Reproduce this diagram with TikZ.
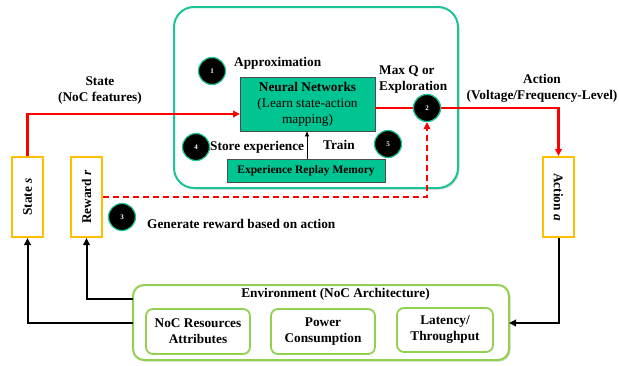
\documentclass[tikz,border=0pt]{standalone}
\usepackage{fontspec}
\setmainfont{Liberation Serif}
\usetikzlibrary{arrows.meta,shadows}
\definecolor{agentteal}{RGB}{26,196,150}
\definecolor{nnfill}{RGB}{0,196,145}
\definecolor{boxorange}{RGB}{255,190,0}
\definecolor{envgreen}{RGB}{146,208,80}
\definecolor{linered}{RGB}{255,0,0}
\begin{document}
\begin{tikzpicture}[x=1pt,y=-1pt,
  lbl/.style={font=\fontsize{13.3}{16}\selectfont\bfseries, inner sep=0pt},
  agentbox/.style={draw=agentteal, line width=2pt, rounded corners=20pt, fill=white,
    drop shadow={shadow xshift=1.5pt, shadow yshift=-1.5pt, opacity=0.3}},
  tealbox/.style={draw=black!70, line width=0.8pt, fill=nnfill, inner sep=0pt},
  stepmark/.style={circle, fill=black, draw=agentteal, line width=1.2pt, minimum size=27pt,
    inner sep=0pt, text=white, font=\fontsize{7}{7}\selectfont\bfseries},
  varbox/.style={draw=boxorange, line width=2pt, fill=white, minimum width=31pt,
    minimum height=80pt, inner sep=0pt},
  envbox/.style={draw=envgreen, line width=2pt, rounded corners=11pt, fill=white,
    drop shadow={shadow xshift=1.5pt, shadow yshift=-1.5pt, opacity=0.35}},
  subbox/.style={draw=envgreen, line width=1.8pt, rounded corners=7pt, fill=white,
    inner sep=0pt, align=center, font=\fontsize{13.3}{16}\selectfont\bfseries},
  redline/.style={draw=linered, line width=2.2pt},
  redtip/.style={-{Triangle[length=7pt,width=6.5pt]}},
  blackarrow/.style={draw=black, line width=2pt, -{Triangle[length=7pt,width=6.5pt]}},
]
\useasboundingbox (0,0) rectangle (619,365);

% agent
\node[agentbox, minimum width=284pt, minimum height=181pt] (agent) at (316,97.5) {};
\node[tealbox, minimum width=135pt, minimum height=54pt, align=center,
  font=\fontsize{13.3}{16}\selectfont] (nn) at (307.5,104)
  {\textbf{Neural Networks}\\(Learn state-action\\mapping)};
\node[tealbox, minimum width=158pt, minimum height=23pt, font=\fontsize{11.5}{13}\selectfont\bfseries]
  (erm) at (306,170.5) {Experience Replay Memory};
\draw[black, line width=0.8pt, -{Triangle[length=5pt,width=4pt]}] (erm.north -| 307,0) -- (nn.south -| 307,0);

\node[stepmark] (c1) at (212,71) {1};
\node[stepmark] (c4) at (196,147) {4};
\node[stepmark] (c5) at (388,144) {5};
\node[stepmark] (c3) at (122,217) {3};

\node[lbl, anchor=west] (tapprox) at (234,63) {Approximation};
\node[lbl, anchor=west] (tstore) at (210,147) {Store experience};
\node[lbl, anchor=west] (ttrain) at (323,145) {Train};
\node[lbl, anchor=west, align=left] (tmaxq) at (379,80) {Max Q or\\Exploration};
\node[lbl, anchor=west] (tgen) at (147,224) {Generate reward based on action};
\node[lbl, align=center] (tstate) at (100,91) {State\\(NoC features)};
\node[lbl, align=center] (taction) at (542,88) {Action\\(Voltage/Frequency-Level)};

% state, reward and action
\node[varbox] (state) at (27.5,197) {};
\node[lbl, rotate=90] at (state) {State \textit{s}};
\node[varbox] (reward) at (86.5,197) {};
\node[lbl, rotate=90] at (reward) {Reward \textit{r}};
\node[varbox] (action) at (558.5,197) {};
\node[lbl, rotate=-90] at (action) {Action \textit{a}};

% environment
\node[envbox, minimum width=376pt, minimum height=75pt] (env) at (321,322.5) {};
\node[lbl] (tenv) at (335.5,294) {Environment (NoC Architecture)};
\node[subbox, minimum width=104pt, minimum height=45pt] (res) at (198,331.5) {NoC Resources\\Attributes};
\node[subbox, minimum width=104pt, minimum height=45pt] (pow) at (323,331.5) {Power\\Consumption};
\node[subbox, minimum width=96pt, minimum height=44pt] (lat) at (445,330) {Latency/\\Throughput};

% connectors
\coordinate (nnin) at (240,114);
\coordinate (envr) at (133,299);
\coordinate (envs) at (133,323);
\coordinate (enva) at (509,323);

\node[stepmark] (c2) at (427,108) {2};
\draw[redline] (nn.east |- c2) -- (c2.west);
\draw[redline, redtip] (c2.east) -| (action.north);
\draw[redline, redtip] (state.north) |- (nnin);
\draw[redline, redtip, dash pattern=on 6pt off 4pt] (reward.east) -| (c2.south);
\node[stepmark] at (c2) {2};

\draw[blackarrow] (envr) -| (reward.south);
\draw[blackarrow] (envs) -| (state.south);
\draw[blackarrow] (action.south) |- (enva);
\end{tikzpicture}
\end{document}
